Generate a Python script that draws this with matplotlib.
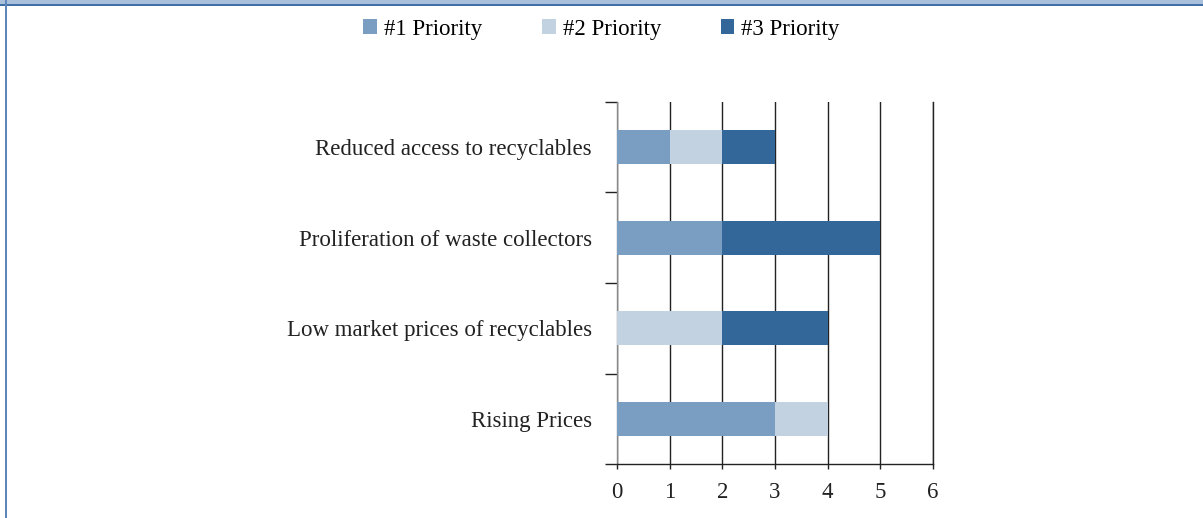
import numpy as np
import matplotlib.pyplot as plt
from matplotlib.patches import Rectangle

categories = ["Rising Prices",
              "Low market prices of recyclables",
              "Proliferation of waste collectors",
              "Reduced access to recyclables"]
series_names = ["#1 Priority", "#2 Priority", "#3 Priority"]
priority1 = [3, 0, 2, 1]
priority2 = [1, 2, 0, 1]
priority3 = [0, 2, 3, 1]
x_ticks = [0, 1, 2, 3, 4, 5, 6]

colors = ["#7a9ec2", "#c2d2e1", "#336699"]

plt.rcParams['font.family'] = ['Liberation Serif', 'DejaVu Serif']

fig = plt.figure(figsize=(12.03, 5.18), dpi=100)
ax = fig.add_axes([617 / 1203, 1 - 464 / 518, (933 - 617) / 1203, (464 - 102) / 518])

y = np.arange(len(categories))
left = np.zeros(len(categories))
for vals, name, c in zip([priority1, priority2, priority3], series_names, colors):
    ax.barh(y, vals, left=left, height=0.38, color=c, label=name, zorder=3)
    left += np.array(vals)

ax.set_xlim(0, 6)
ax.set_ylim(-0.5, len(categories) - 0.5)
ax.set_xticks(x_ticks)
ax.set_xticklabels([str(t) for t in x_ticks])
ax.set_yticks(y)
ax.set_yticklabels(categories)
ax.set_yticks(np.arange(-0.5, len(categories)), minor=True)

ax.tick_params(axis='y', which='major', length=0, pad=18, labelsize=16.5, colors='#222222')
ax.tick_params(axis='y', which='minor', length=8.5, width=1.0, color='#222222')
ax.tick_params(axis='x', length=3.8, width=1.0, color='#222222', pad=9, labelsize=16.5,
               labelcolor='#222222')

ax.grid(axis='x', color='#222222', linewidth=1.0, zorder=1)
ax.set_axisbelow(True)
ax.spines['top'].set_visible(False)
ax.spines['right'].set_color('#222222')
ax.spines['left'].set_color('#888888')
ax.spines['bottom'].set_color('#222222')
for s in ['left', 'right', 'bottom']:
    ax.spines[s].set_linewidth(1.0)

handles, labels = ax.get_legend_handles_labels()
fig.legend(handles, labels, loc='upper center', bbox_to_anchor=(0.5, 1.004), ncol=3,
           frameon=False, fontsize=16.5, handlelength=0.6, handleheight=0.6,
           handletextpad=0.3, columnspacing=2.6)

# page frame (top band and left rule)
fig.patches.append(Rectangle((0, 1 - 4 / 518), 1, 4 / 518, transform=fig.transFigure,
                             facecolor='#a8c0da', edgecolor='none'))
fig.patches.append(Rectangle((0, 1 - 5.5 / 518), 1, 1.5 / 518, transform=fig.transFigure,
                             facecolor='#3f6fa6', edgecolor='none'))
fig.patches.append(Rectangle((5 / 1203, 0), 1.5 / 1203, 1, transform=fig.transFigure,
                             facecolor='#5f86b8', edgecolor='none'))

fig.savefig("out.png", dpi=100)
